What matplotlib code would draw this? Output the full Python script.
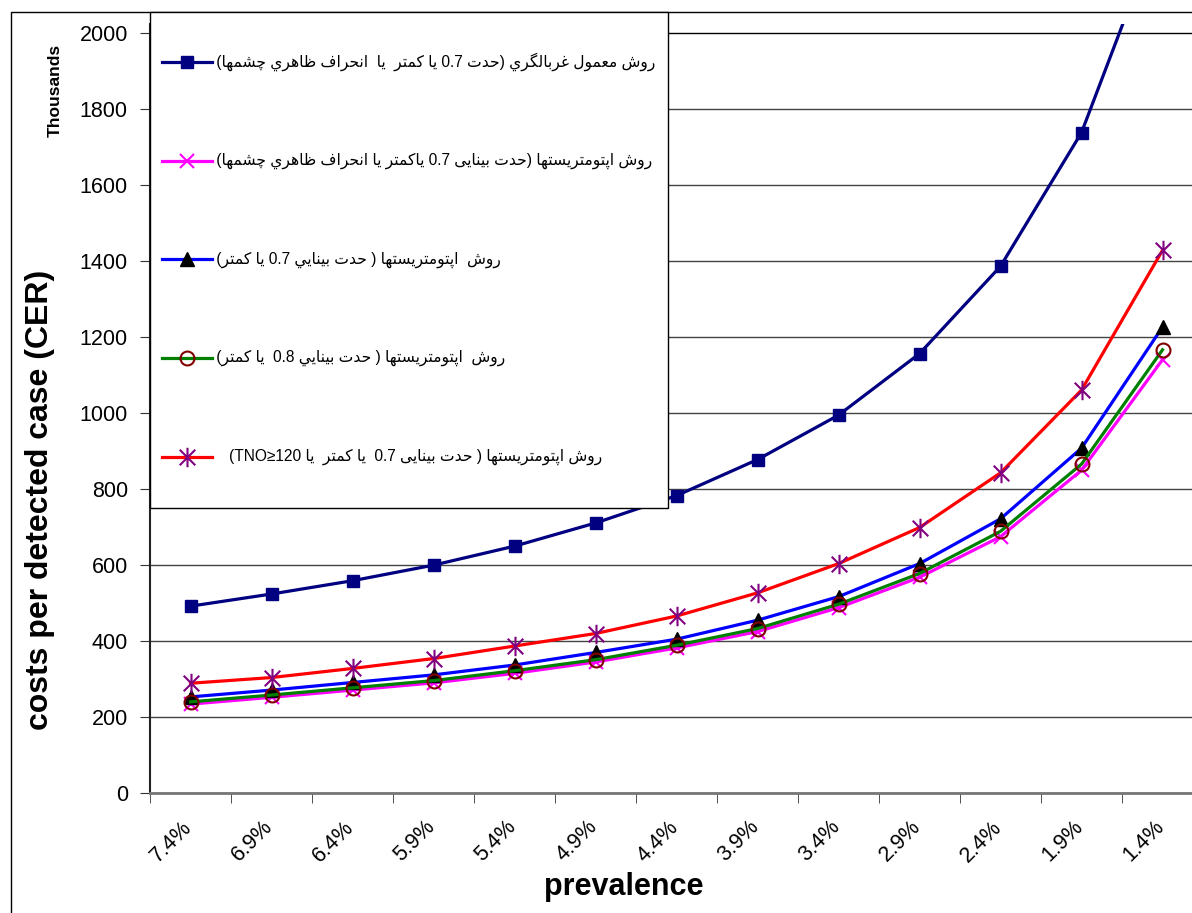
import matplotlib
matplotlib.use("Agg")
import matplotlib.pyplot as plt
import numpy as np
from matplotlib.lines import Line2D
from matplotlib.patches import Rectangle
from matplotlib.path import Path
from matplotlib.transforms import ScaledTranslation

plt.rcParams['font.family'] = ['Liberation Sans', 'DejaVu Sans']

# 数据 (thousands)
prevalence = ['7.4%', '6.9%', '6.4%', '5.9%', '5.4%', '4.9%', '4.4%',
              '3.9%', '3.4%', '2.9%', '2.4%', '1.9%', '1.4%']
routine = [492, 524, 559, 600, 650, 711, 783, 878, 995, 1157, 1387, 1739, 2300]
opt_07_eye = [234, 252, 271, 290, 315, 345, 382, 425, 488, 568, 675, 850, 1141]
opt_07 = [253, 271, 291, 311, 337, 370, 405, 455, 517, 604, 722, 908, 1227]
opt_08 = [240, 258, 277, 296, 322, 351, 389, 433, 497, 578, 689, 866, 1167]
opt_07_tno = [289, 304, 328, 354, 387, 420, 466, 527, 604, 699, 843, 1061, 1429]

labels = [
    'روش معمول غربالگري (حدت 0.7 يا كمتر  يا  انحراف ظاهري چشمها) ',
    'روش اپتومتريستها (حدت بينايی 0.7 ياكمتر يا انحراف ظاهري چشمها) ',
    'روش  اپتومتريستها ( حدت بينايي 0.7 يا كمتر) ',
    'روش  اپتومتريستها ( حدت بينايي 0.8  يا كمتر) ',
    'روش اپتومتريستها ( حدت بينايی 0.7  يا كمتر  يا TNO≥120)    ',
]

# Arabic presentation forms: (isolated, final, initial, medial)
FORMS = {
    'ا': '\uFE8D\uFE8E', 'ب': '\uFE8F\uFE90\uFE91\uFE92', 'پ': '\uFB56\uFB57\uFB58\uFB59',
    'ت': '\uFE95\uFE96\uFE97\uFE98', 'ح': '\uFEA1\uFEA2\uFEA3\uFEA4', 'چ': '\uFB7A\uFB7B\uFB7C\uFB7D',
    'د': '\uFEA9\uFEAA', 'ر': '\uFEAD\uFEAE', 'س': '\uFEB1\uFEB2\uFEB3\uFEB4',
    'ش': '\uFEB5\uFEB6\uFEB7\uFEB8', 'ظ': '\uFEC5\uFEC6\uFEC7\uFEC8', 'ع': '\uFEC9\uFECA\uFECB\uFECC',
    'غ': '\uFECD\uFECE\uFECF\uFED0', 'ف': '\uFED1\uFED2\uFED3\uFED4', 'ك': '\uFED9\uFEDA\uFEDB\uFEDC',
    'گ': '\uFB92\uFB93\uFB94\uFB95', 'ل': '\uFEDD\uFEDE\uFEDF\uFEE0', 'م': '\uFEE1\uFEE2\uFEE3\uFEE4',
    'ن': '\uFEE5\uFEE6\uFEE7\uFEE8', 'ه': '\uFEE9\uFEEA\uFEEB\uFEEC', 'و': '\uFEED\uFEEE',
    'ي': '\uFEF1\uFEF2\uFEF3\uFEF4', 'ی': '\uFEEF\uFEF0\uFEF3\uFEF4',
}
MIRROR = {'(': ')', ')': '('}


def shape_fa(s):
    """简单的波斯文连写 + 从右到左显示顺序"""
    out = []
    for i, ch in enumerate(s):
        if ch not in FORMS:
            out.append(ch)
            continue
        prev = s[i - 1] if i > 0 else ''
        nxt = s[i + 1] if i + 1 < len(s) else ''
        join_prev = prev in FORMS and len(FORMS[prev]) == 4
        join_next = nxt in FORMS and len(FORMS[ch]) == 4
        f = FORMS[ch]
        if join_prev and join_next:
            out.append(f[3])
        elif join_prev:
            out.append(f[1])
        elif join_next:
            out.append(f[2])
        else:
            out.append(f[0])
    runs = []
    for ch in out:
        ltr = (ch.isascii() and (ch.isalnum() or ch == '.')) or ch == '≥'
        if runs and runs[-1][0] == ltr:
            runs[-1][1].append(ch)
        else:
            runs.append([ltr, [ch]])
    res = ''
    for ltr, chars in reversed(runs):
        if ltr:
            res += ''.join(chars)
        else:
            res += ''.join(MIRROR.get(c, c) for c in reversed(chars))
    return res


star = Path([(0, -1), (0, 1), (-0.8, -0.8), (0.8, 0.8), (-0.8, 0.8), (0.8, -0.8)],
            [Path.MOVETO, Path.LINETO, Path.MOVETO, Path.LINETO, Path.MOVETO, Path.LINETO])

styles = [
    dict(color='#000080', marker='s', ms=9, mfc='#000080', mec='#000080'),
    dict(color='#FF00FF', marker='x', ms=10, mew=1.5, mec='#FF00FF'),
    dict(color='#0000FF', marker='^', ms=10, mfc='black', mec='black'),
    dict(color='#008000', marker='o', ms=10, mfc='none', mec='#800000', mew=1.5),
    dict(color='#FF0000', marker=star, ms=14, mec='#800080', mew=1.5),
]
series = [routine, opt_07_eye, opt_07, opt_08, opt_07_tno]

W, H = 1192, 913
fig = plt.figure(figsize=(W / 100, H / 100), dpi=100)
ax = fig.add_axes([150 / W, 120 / H, 1053 / W, 769 / H])

x = np.arange(len(prevalence))
for vals, st in zip(series, styles):
    ax.plot(x, vals, lw=2.3, **st)

ax.set_xlim(-0.5, len(prevalence) - 0.5)
ax.set_ylim(0, 2025)
ax.set_yticks(np.arange(0, 2001, 200))
ax.yaxis.grid(True, color='#444444', lw=1)
ax.get_ygridlines()[-1].set_color('black')
ax.set_axisbelow(True)

ax.set_xticks(x)
ax.set_xticklabels(prevalence, rotation=45, ha='right', va='top', rotation_mode='anchor')
ax.set_xticks(np.arange(-0.5, len(prevalence)), minor=True)
ax.tick_params(axis='x', which='major', length=0, pad=17, labelsize=15.5)
ax.tick_params(axis='x', which='minor', length=7, color='#333333')
ax.tick_params(axis='y', length=7, pad=9, labelsize=15.5, color='#333333')
shift = ScaledTranslation(-9 / 100, 0, fig.dpi_scale_trans)
for lbl in ax.get_xticklabels():
    lbl.set_transform(lbl.get_transform() + shift)

for s in ['top', 'right']:
    ax.spines[s].set_visible(False)
ax.spines['left'].set_color('#222222')
ax.spines['left'].set_linewidth(1.5)
ax.spines['bottom'].set_color('#777777')
ax.spines['bottom'].set_linewidth(2)

fig.text(624 / W, 1 - 887 / H, 'prevalence', ha='center', va='center',
         fontsize=22, fontweight='bold')
fig.text(40 / W, 1 - 500 / H, 'costs per detected case (CER)', ha='center', va='center',
         rotation=90, fontsize=23, fontweight='bold')
fig.text(55 / W, 1 - 90 / H, 'Thousands', ha='center', va='center',
         rotation=90, fontsize=12.5, fontweight='bold')

# 外边框
fig.add_artist(Rectangle((11 / W, -1), 2, 2 - 12 / H, transform=fig.transFigure,
                         fill=False, lw=1, edgecolor='black'))

# 图例
fig.add_artist(Rectangle((150 / W, 1 - 508 / H), 518 / W, 496 / H, transform=fig.transFigure,
                         facecolor='white', edgecolor='black', lw=1, zorder=5))
for i, (lab, st) in enumerate(zip(labels, styles)):
    yy = 1 - (62 + 98.75 * i) / H
    fig.add_artist(Line2D([162 / W, 212 / W], [yy, yy], transform=fig.transFigure,
                          color=st['color'], lw=2.3, zorder=6))
    mk = {k: v for k, v in st.items() if k != 'color'}
    fig.add_artist(Line2D([187 / W], [yy], transform=fig.transFigure, ls='none',
                          zorder=7, **mk))
    fig.text(212 / W, yy, shape_fa(lab), ha='left', va='center', fontsize=11.2, zorder=8)

fig.savefig('out.png', dpi=100)
